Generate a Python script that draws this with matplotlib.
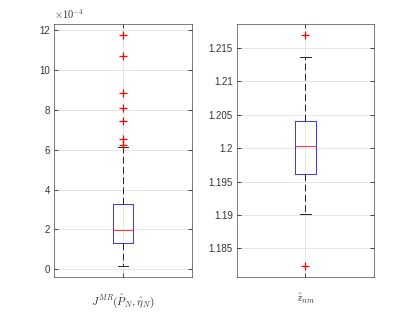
import matplotlib
matplotlib.use("Agg")
import matplotlib.pyplot as plt

# left panel, values in units of 1e-4
j_whislo, j_q1, j_med, j_q3, j_whishi = 0.15, 1.34, 1.99, 3.29, 6.12
j_fliers = [11.76, 10.69, 8.87, 8.08, 7.45, 6.53, 6.26]
j_ticks = [0, 2, 4, 6, 8, 10, 12]

# right panel
z_whislo, z_q1, z_med, z_q3, z_whishi = 1.1901, 1.1962, 1.2004, 1.2041, 1.2137
z_fliers = [1.2169, 1.1823]
z_ticks = [1.185, 1.19, 1.195, 1.2, 1.205, 1.21, 1.215]
z_ticklabels = ['1.185', '1.19', '1.195', '1.2', '1.205', '1.21', '1.215']

plt.rcParams['mathtext.fontset'] = 'cm'
plt.rcParams['font.family'] = ['Liberation Sans', 'DejaVu Sans']

fig = plt.figure(figsize=(4.15, 3.12), dpi=100)
ax1 = fig.add_axes([0.130, 0.112, 0.3325, 0.811])
ax2 = fig.add_axes([0.571, 0.112, 0.3300, 0.811])


def draw(ax, stats, ylim, ticks, ticklabels, xlabel):
    ax.bxp([stats], positions=[1], widths=0.15, showfliers=True,
           boxprops=dict(color='#3333ff', linewidth=0.7),
           medianprops=dict(color='#ff3333', linewidth=0.7),
           whiskerprops=dict(color='#222222', linestyle=(0, (7, 3.5)), linewidth=0.7),
           capprops=dict(color='#222222', linewidth=0.7),
           flierprops=dict(marker='+', color='#ff0000', markeredgecolor='#ff0000',
                           markersize=5.5, markeredgewidth=0.9, linestyle='none',
                           zorder=5),
           capwidths=0.075)
    ax.set_xlim(0.5, 1.5)
    ax.set_ylim(*ylim)
    ax.set_yticks(ticks)
    ax.set_yticklabels(ticklabels)
    ax.set_xticks([1])
    ax.set_xticklabels([''])
    ax.grid(True, color='#e6e6e6', linewidth=0.7)
    ax.set_axisbelow(True)
    ax.tick_params(direction='in', length=3, width=0.6, colors='#262626',
                   labelsize=7, labelcolor='#333333', top=True, right=True, pad=3)
    for s in ax.spines.values():
        s.set_color('#262626')
        s.set_linewidth(0.6)
        s.set_alpha(0.7)
    ax.set_xlabel(xlabel, fontsize=8, labelpad=8, color='#333333')


draw(ax1, dict(whislo=j_whislo, q1=j_q1, med=j_med, q3=j_q3, whishi=j_whishi,
               fliers=j_fliers),
     (-0.39, 12.32), j_ticks, [str(t) for t in j_ticks],
     r'$J^{MR}(\hat{P}_N,\hat{\eta}_N)$')
ax1.text(0.0, 1.012, r'$\times10^{-4}$', transform=ax1.transAxes,
         fontsize=7.5, color='#333333', ha='left', va='bottom')

draw(ax2, dict(whislo=z_whislo, q1=z_q1, med=z_med, q3=z_q3, whishi=z_whishi,
               fliers=z_fliers),
     (1.1807, 1.2186), z_ticks, z_ticklabels, r'$\hat{z}_{nm}$')

fig.savefig('out.png', dpi=100)
